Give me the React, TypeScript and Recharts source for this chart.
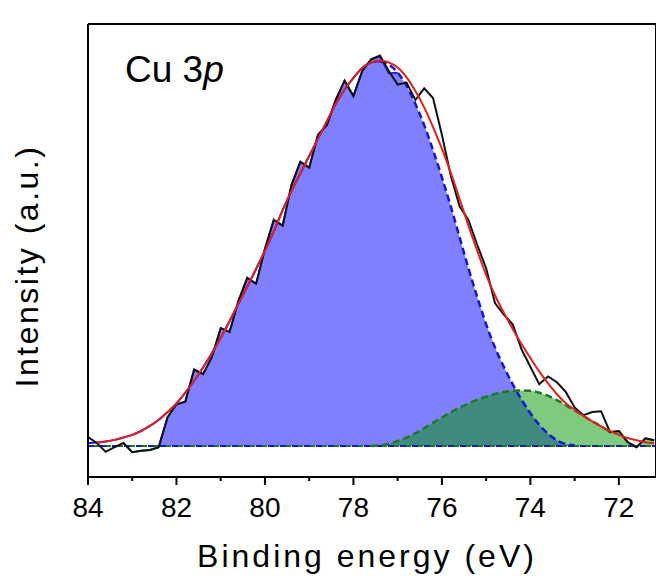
import React from 'react';
import { ComposedChart, Line, Area, XAxis, YAxis, ReferenceLine, Customized } from 'recharts';

// Binding energy grid (eV)
const energy = [
  84.0, 83.8, 83.6, 83.4, 83.2, 83.0, 82.8, 82.6, 82.4, 82.2,
  82.0, 81.8, 81.6, 81.4, 81.2, 81.0, 80.8, 80.6, 80.4, 80.2,
  80.0, 79.8, 79.6, 79.4, 79.2, 79.0, 78.8, 78.6, 78.4, 78.2,
  78.0, 77.8, 77.6, 77.4, 77.2, 77.0, 76.8, 76.6, 76.4, 76.2,
  76.0, 75.8, 75.6, 75.4, 75.2, 75.0, 74.8, 74.6, 74.4, 74.2,
  74.0, 73.8, 73.6, 73.4, 73.2, 73.0, 72.8, 72.6, 72.4, 72.2,
  72.0, 71.8, 71.6, 71.4, 71.2,
];

// Measured spectrum (background subtracted, a.u.)
const intensityRaw = [
  2.3, 0.8, -1.5, -0.3, 0.8, -1.6, -1.2, -1.0, -0.3, 7.5,
  10.8, 11.5, 19.8, 18.6, 23.0, 30.5, 29.5, 37.5, 43.5, 42.0,
  51.0, 58.5, 57.0, 67.5, 73.5, 72.0, 80.5, 83.0, 89.5, 94.5,
  90.5, 97.0, 100.0, 101.0, 97.0, 93.5, 94.0, 89.5, 92.5, 90.0,
  80.5, 70.0, 62.0, 58.5, 52.0, 46.0, 37.0, 34.0, 31.5, 25.0,
  20.5, 16.0, 18.0, 16.5, 14.0, 10.0, 8.0, 8.8, 9.0, 3.6,
  3.9, 1.0, -0.3, 2.0, 1.5,
];

// Cumulative fit envelope
const envelopeFit = [
  null, 0.9, 1.2, 1.6, 2.2, 2.9, 3.9, 5.2, 6.8, 8.8,
  11.0, 13.8, 16.9, 20.3, 24.0, 28.0, 32.3, 36.8, 41.2, 45.8,
  50.5, 55.5, 61.0, 66.0, 70.5, 75.0, 79.5, 84.0, 88.5, 92.2,
  95.2, 97.8, 99.2, 99.7, 99.2, 97.9, 95.4, 91.8, 87.6, 82.5,
  76.9, 70.7, 63.9, 57.0, 50.5, 44.3, 39.0, 34.5, 30.3, 26.4,
  22.8, 19.3, 16.2, 13.4, 11.1, 9.4, 7.8, 6.4, 5.1, 3.9,
  2.9, 2.1, 1.5, 1.0, 0.7,
];

// Main component (Cu 3p, ~77.4 eV)
const peakMain = [
  0.7, 0.9, 1.2, 1.6, 2.2, 2.9, 3.9, 5.2, 6.8, 8.8,
  11.0, 13.8, 16.9, 20.3, 24.0, 28.0, 32.3, 36.8, 41.2, 45.8,
  50.5, 55.5, 61.0, 66.0, 70.5, 75.0, 79.5, 84.0, 88.5, 92.2,
  95.2, 97.8, 99.2, 99.5, 98.6, 96.6, 93.2, 88.5, 83.0, 76.5,
  69.5, 62.0, 54.0, 46.0, 38.5, 31.5, 25.5, 20.5, 16.0, 12.0,
  8.5, 5.5, 3.2, 1.5, 0.5, 0.2, 0, 0, 0, 0,
  0, 0, 0, 0, 0,
];

// Second component (~74.2 eV)
const peakSecond = [
  0, 0, 0, 0, 0, 0, 0, 0, 0, 0,
  0, 0, 0, 0, 0, 0, 0, 0, 0, 0,
  0, 0, 0, 0, 0, 0, 0, 0, 0, 0,
  0, 0, 0, 0.2, 0.6, 1.3, 2.2, 3.3, 4.6, 6.0,
  7.4, 8.7, 9.9, 11.0, 12.0, 12.8, 13.5, 14.0, 14.3, 14.4,
  14.3, 13.8, 13.0, 11.9, 10.6, 9.2, 7.8, 6.4, 5.1, 3.9,
  2.9, 2.1, 1.5, 1.0, 0.7,
];

const xTicks = [84, 83, 82, 81, 80, 79, 78, 77, 76, 75, 74, 73, 72];

const rows = energy.map((e, i) => {
  const raw = intensityRaw[i];
  const m = peakMain[i];
  const s = peakSecond[i];
  const fillMain = e > 82.45 ? null : e > 77.05 ? Math.max(raw - s, 0) : m;
  return {
    e,
    raw,
    env: envelopeFit[i],
    fillMain,
    edgeMain: e <= 82.45 && e >= 76.95 ? fillMain : null,
    smoothMain: e >= 77.35 ? m : null,
    dashMain: e <= 77.45 && e >= 72.95 ? m : null,
    fillSecond: e <= 77.65 ? (e > 72.3 ? s : Math.max(raw - m, 0)) : null,
    dashSecond: e <= 77.65 && e >= 72.35 ? s : null,
    tailSecond: e <= 72.45 ? (e > 72.3 ? s : raw - m) : null,
    leftSecond: e <= 83.25 && e >= 82.35 ? raw : null,
  };
});

const FONT = '"Liberation Sans", Arial, Helvetica, sans-serif';

const Tick = (props: any) => {
  const { x, y, payload } = props;
  const v = payload.value as number;
  const major = v % 2 === 0;
  return (
    <g>
      <line x1={x} x2={x} y1={y} y2={y + (major ? 8 : 4)} stroke="#000" strokeWidth={2} />
      {major && (
        <text x={x} y={y + 40} textAnchor="middle" fontSize={28} fontFamily={FONT} fill="#000">
          {v}
        </text>
      )}
    </g>
  );
};

const Texts = () => (
  <g>
    <text x={125} y={82} fontSize={37} fontFamily={FONT} fill="#000">
      Cu 3<tspan fontStyle="italic">p</tspan>
    </text>
    <text x={367} y={567} textAnchor="middle" fontSize={32} letterSpacing={3} fontFamily={FONT} fill="#000">
      Binding energy (eV)
    </text>
    <text
      x={38}
      y={266}
      textAnchor="middle"
      fontSize={32}
      letterSpacing={2.5}
      fontFamily={FONT}
      fill="#000"
      transform="rotate(-90, 38, 266)"
    >
      Intensity (a.u.)
    </text>
  </g>
);

const BLUE_FILL = '#8080ff';
const BLUE_LINE = '#1515d8';
const GREEN_FILL = 'rgb(0,150,0)';
const GREEN_LINE = '#1d7a1d';

export default function App() {
  return (
    <div style={{ position: 'absolute', left: 0, top: 0, width: 656, height: 578, background: '#fff' }}>
      <ComposedChart
        width={656}
        height={578}
        data={rows}
        margin={{ top: 24, right: 0, bottom: 41, left: 88 }}
      >
        <XAxis
          dataKey="e"
          type="number"
          domain={[71.16, 84]}
          reversed
          allowDataOverflow
          ticks={xTicks}
          interval={0}
          tick={<Tick />}
          tickLine={false}
          tickSize={0}
          tickMargin={0}
          axisLine={{ stroke: '#000', strokeWidth: 2 }}
          height={60}
        />
        <YAxis hide type="number" domain={[-8, 109.15]} allowDataOverflow />
        <Area
          dataKey="fillMain"
          type="linear"
          stroke="none"
          fill={BLUE_FILL}
          fillOpacity={1}
          baseValue={0}
          isAnimationActive={false}
          connectNulls={false}
        />
        <Area
          dataKey="fillSecond"
          type="monotone"
          stroke="none"
          fill={GREEN_FILL}
          fillOpacity={0.5}
          baseValue={0}
          isAnimationActive={false}
          connectNulls={false}
        />
        <ReferenceLine y={0} stroke={BLUE_LINE} strokeWidth={2} strokeDasharray="7 5" />
        <ReferenceLine y={0} stroke={GREEN_LINE} strokeWidth={2} strokeDasharray="5 7" strokeDashoffset={6} />
        <Line dataKey="smoothMain" type="monotone" stroke={BLUE_LINE} strokeWidth={2} dot={false} isAnimationActive={false} />
        <Line dataKey="edgeMain" type="linear" stroke={BLUE_LINE} strokeWidth={1.8} dot={false} isAnimationActive={false} />
        <Line dataKey="dashMain" type="monotone" stroke={BLUE_LINE} strokeWidth={2.5} strokeDasharray="7 4" dot={false} isAnimationActive={false} />
        <Line dataKey="dashSecond" type="monotone" stroke={GREEN_LINE} strokeWidth={2.5} strokeDasharray="7 4" dot={false} isAnimationActive={false} />
        <Line dataKey="tailSecond" type="linear" stroke={GREEN_LINE} strokeWidth={2} dot={false} isAnimationActive={false} />
        <Line dataKey="leftSecond" type="linear" stroke={GREEN_LINE} strokeWidth={2} dot={false} isAnimationActive={false} />
        <Line dataKey="raw" type="linear" stroke="#111" strokeWidth={2} dot={false} isAnimationActive={false} />
        <Line dataKey="env" type="monotone" stroke="#e3201b" strokeWidth={2} dot={false} isAnimationActive={false} />
        <ReferenceLine x={84} stroke="#000" strokeWidth={2} />
        <ReferenceLine x={71.16} stroke="#000" strokeWidth={2} />
        <ReferenceLine y={109.15} stroke="#000" strokeWidth={2} />
        <Customized component={Texts} />
      </ComposedChart>
    </div>
  );
}
